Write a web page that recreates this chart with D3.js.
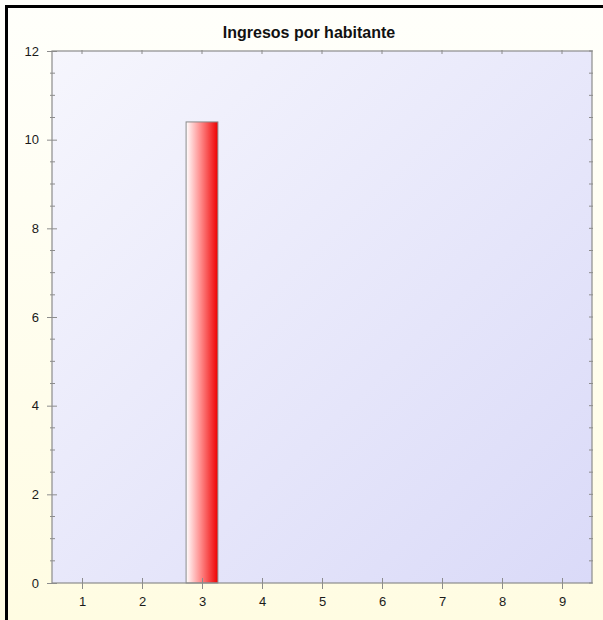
<!DOCTYPE html>
<html>
<head>
<meta charset="utf-8">
<script src="https://cdn.jsdelivr.net/npm/d3@7"></script>
<style>
  html, body { margin: 0; padding: 0; background: #fffef4; }
  svg { display: block; }
</style>
</head>
<body>
<script>
// Chart data
const title = "Ingresos por habitante";
const categories = [1, 2, 3, 4, 5, 6, 7, 8, 9];
const values = [null, null, 10.4, null, null, null, null, null, null];
const yTicks = [0, 2, 4, 6, 8, 10, 12];

const W = 603, H = 620;
const margin = { left: 52, right: 11, top: 51, bottom: 37 };

const svg = d3.select("body").append("svg")
  .attr("width", W).attr("height", H);

const defs = svg.append("defs");

// outer panel gradient (pale cream)
const gOuter = defs.append("linearGradient").attr("id", "outerGrad")
  .attr("x1", 0).attr("y1", 0).attr("x2", 0).attr("y2", 1);
gOuter.append("stop").attr("offset", 0).attr("stop-color", "#fffffb");
gOuter.append("stop").attr("offset", 1).attr("stop-color", "#fffce2");

// plot area gradient (white to lavender, diagonal)
const gPlot = defs.append("linearGradient").attr("id", "plotGrad")
  .attr("x1", 0).attr("y1", 0).attr("x2", 1).attr("y2", 1);
gPlot.append("stop").attr("offset", 0).attr("stop-color", "#f6f6fd");
gPlot.append("stop").attr("offset", 1).attr("stop-color", "#dadaf8");

// bar gradient (white to red, horizontal)
const gBar = defs.append("linearGradient").attr("id", "barGrad")
  .attr("x1", 0).attr("y1", 0).attr("x2", 1).attr("y2", 0);
gBar.append("stop").attr("offset", 0).attr("stop-color", "#ffffff");
gBar.append("stop").attr("offset", 0.45).attr("stop-color", "#ff8c8c");
gBar.append("stop").attr("offset", 1).attr("stop-color", "#ee0000");

svg.append("rect").attr("x", 0).attr("y", 0).attr("width", W).attr("height", H)
  .attr("fill", "url(#outerGrad)");

// black frame edges
svg.append("rect").attr("x", 5).attr("y", 5).attr("width", W - 5).attr("height", 3).attr("fill", "#000");
svg.append("rect").attr("x", 5).attr("y", 5).attr("width", 3).attr("height", H - 5).attr("fill", "#000");

const x = d3.scaleLinear().domain([0.5, 9.5]).range([margin.left, W - margin.right]);
const y = d3.scaleLinear().domain([0, 12]).range([H - margin.bottom, margin.top]);

const x0 = x.range()[0], x1 = x.range()[1];
const y0 = y.range()[0], y1 = y.range()[1];

svg.append("rect").attr("x", x0).attr("y", y1)
  .attr("width", x1 - x0).attr("height", y0 - y1)
  .attr("fill", "url(#plotGrad)");

// title
svg.append("text").attr("x", 309).attr("y", 38)
  .attr("text-anchor", "middle")
  .attr("font-family", "Arial, 'Liberation Sans', sans-serif")
  .attr("font-weight", "bold").attr("font-size", 16).attr("fill", "#111")
  .text(title);

// bars
const barW = x(1.53) - x(1);
svg.append("g").selectAll("rect")
  .data(categories.map((c, i) => ({ c, v: values[i] })).filter(d => d.v != null))
  .join("rect")
  .attr("x", d => x(d.c) - barW / 2)
  .attr("y", d => y(d.v))
  .attr("width", barW)
  .attr("height", d => y(0) - y(d.v))
  .attr("fill", "url(#barGrad)")
  .attr("stroke", "#8a8a8a").attr("stroke-width", 1);

const axisColor = "#8c8c8c";
const font = "Arial, 'Liberation Sans', sans-serif";

// minor ticks every 0.5 on y
const yMinor = d3.range(0, 12.001, 0.5).filter(v => !yTicks.includes(v));

// left axis
const leftAxis = svg.append("g").attr("transform", `translate(${x0},0)`)
  .call(d3.axisLeft(y).tickValues(yTicks).tickSize(5).tickPadding(8).tickFormat(d3.format("d")));
leftAxis.selectAll(".tick line").attr("x2", -5).attr("x1", 5);
leftAxis.selectAll("text").attr("font-family", font).attr("font-size", 13).attr("fill", "#1a1a1a");
leftAxis.select(".domain").remove();
leftAxis.selectAll(".minor").data(yMinor).join("line").attr("class", "minor")
  .attr("x1", -2).attr("x2", 3).attr("y1", d => y(d)).attr("y2", d => y(d));
leftAxis.selectAll("line").attr("stroke", axisColor);

// bottom axis
const bottomAxis = svg.append("g").attr("transform", `translate(0,${y0})`)
  .call(d3.axisBottom(x).tickValues(categories).tickSize(6).tickPadding(8).tickFormat(d3.format("d")));
bottomAxis.selectAll(".tick line").attr("y1", -5).attr("y2", 6).attr("stroke", axisColor);
bottomAxis.selectAll("text").attr("font-family", font).attr("font-size", 13).attr("fill", "#1a1a1a");
bottomAxis.select(".domain").remove();

// mirrored ticks on top and right edges
svg.append("g").selectAll("line").data(categories).join("line")
  .attr("x1", d => x(d)).attr("x2", d => x(d))
  .attr("y1", y1 - 1).attr("y2", y1 + 3).attr("stroke", axisColor);
svg.append("g").selectAll("line").data(yTicks.concat(yMinor)).join("line")
  .attr("x1", x1 - 3).attr("x2", x1 + 1)
  .attr("y1", d => y(d)).attr("y2", d => y(d)).attr("stroke", axisColor);

// plot border
svg.append("rect").attr("x", x0).attr("y", y1)
  .attr("width", x1 - x0).attr("height", y0 - y1)
  .attr("fill", "none").attr("stroke", axisColor).attr("stroke-width", 1.2);
</script>
</body>
</html>
